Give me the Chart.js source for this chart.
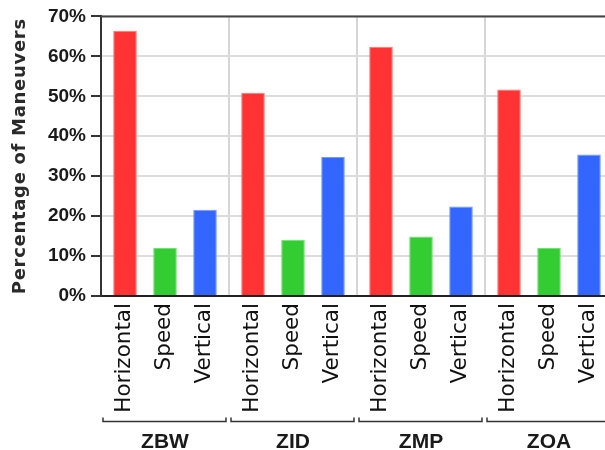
<!DOCTYPE html>
<html>
<head>
<meta charset="utf-8">
<script src="https://cdn.jsdelivr.net/npm/chart.js@4"></script>
<style>
  html, body { margin: 0; padding: 0; background: #fff; overflow: hidden; }
  #wrap { width: 605px; height: 450px; overflow: hidden; }
</style>
</head>
<body>
<div id="wrap"><canvas id="myChart" width="616" height="450"></canvas></div>
<script>
// Centres (groupes) et types de manoeuvre
const centers = ['ZBW', 'ZID', 'ZMP', 'ZOA'];
const horizontal = [66.4, 50.9, 62.4, 51.7];
const speed = [12.0, 14.1, 14.9, 12.0];
const vertical = [21.6, 34.8, 22.4, 35.4];
const yTicks = [0, 10, 20, 30, 40, 50, 60, 70];
const yTitle = 'Percentage of Maneuvers';

// Étiquettes tournées sous chaque barre + accolades de groupe + titre de l'axe Y
const extraLabels = {
    id: 'extraLabels',
    afterDraw(chart) {
        const ctx = chart.ctx;
        const area = chart.chartArea;
        const xs = chart.scales.x;

        // bordure du haut
        ctx.save();
        ctx.strokeStyle = '#444';
        ctx.lineWidth = 2;
        ctx.beginPath();
        ctx.moveTo(area.left, area.top);
        ctx.lineTo(area.right, area.top);
        ctx.stroke();
        ctx.restore();

        // libellés des barres
        chart.data.datasets.forEach((ds, di) => {
            const meta = chart.getDatasetMeta(di);
            meta.data.forEach(bar => {
                ctx.save();
                ctx.translate(bar.x + 4.5, area.bottom + 7);
                ctx.rotate(-Math.PI / 2);
                ctx.font = '21.5px "DejaVu Sans"';
                ctx.fillStyle = '#111';
                ctx.textAlign = 'right';
                ctx.textBaseline = 'alphabetic';
                ctx.fillText(ds.label, 0, 0);
                ctx.restore();
            });
        });

        // accolades et noms des groupes
        const half = (xs.getPixelForValue(1) - xs.getPixelForValue(0)) / 2;
        centers.forEach((c, i) => {
            const cx = xs.getPixelForValue(i);
            const x0 = cx - half + 2;
            const x1 = cx + half - 3;
            const y = 421.5;
            ctx.save();
            ctx.strokeStyle = '#333';
            ctx.lineWidth = 1.5;
            ctx.beginPath();
            ctx.moveTo(x0, y - 4);
            ctx.lineTo(x0, y);
            ctx.lineTo(x1, y);
            ctx.lineTo(x1, y - 4);
            ctx.stroke();
            ctx.font = 'bold 21px "Liberation Sans"';
            ctx.fillStyle = '#1a1a1a';
            ctx.textAlign = 'center';
            ctx.textBaseline = 'middle';
            ctx.fillText(c, cx, 442);
            ctx.restore();
        });

        // titre de l'axe Y
        ctx.save();
        ctx.translate(20, (area.top + area.bottom) / 2);
        ctx.rotate(-Math.PI / 2);
        ctx.font = 'bold 18px "DejaVu Sans"';
        if ('letterSpacing' in ctx) ctx.letterSpacing = '0.7px';
        ctx.fillStyle = '#2a2a2a';
        ctx.textAlign = 'center';
        ctx.textBaseline = 'middle';
        ctx.fillText(yTitle, 0, 0);
        ctx.restore();
    }
};

const ctx = document.getElementById('myChart').getContext('2d');
const myChart = new Chart(ctx, {
    type: 'bar',
    data: {
        labels: centers,
        datasets: [
            { label: 'Horizontal', data: horizontal, backgroundColor: '#ff3333', borderColor: '#ff7777', borderWidth: 1 },
            { label: 'Speed', data: speed, backgroundColor: '#33cc33', borderColor: '#77dd77', borderWidth: 1 },
            { label: 'Vertical', data: vertical, backgroundColor: '#3366ff', borderColor: '#7799ff', borderWidth: 1 }
        ]
    },
    options: {
        responsive: false,
        animation: false,
        categoryPercentage: 0.9375,
        barPercentage: 0.59,
        layout: { padding: { top: 14, right: 3, left: 0, bottom: 0 } },
        plugins: {
            legend: { display: false },
            tooltip: { enabled: false }
        },
        scales: {
            x: {
                ticks: { display: false },
                grid: {
                    offset: true,
                    drawTicks: false,
                    lineWidth: 2,
                    color: c => (c.index > 0 ? '#d6d6d6' : 'rgba(0,0,0,0)')
                },
                border: { color: '#222', width: 2 },
                afterFit: s => { s.height = 154; }
            },
            y: {
                min: 0,
                max: 70,
                afterBuildTicks: s => { s.ticks = yTicks.map(v => ({ value: v })); },
                ticks: {
                    callback: v => v + '%',
                    font: { family: '"Liberation Sans"', size: 19, weight: 'bold' },
                    color: '#1a1a1a',
                    padding: 5
                },
                grid: {
                    color: '#dcdcdc',
                    lineWidth: 2,
                    tickLength: 10,
                    tickColor: '#333',
                    tickWidth: 2
                },
                border: { color: '#333', width: 2 },
                afterFit: s => { s.width = 101; }
            }
        }
    },
    plugins: [extraLabels]
});
</script>
</body>
</html>
